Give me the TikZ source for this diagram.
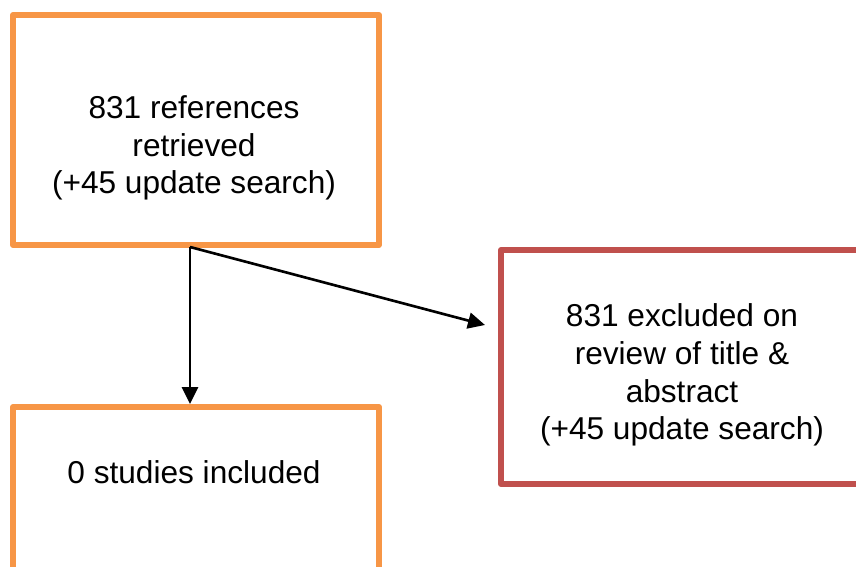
\documentclass[tikz,border=0pt]{standalone}
\usepackage{fontspec}
\setmainfont{Liberation Sans}
\usetikzlibrary{arrows.meta}
\definecolor{boxorange}{HTML}{F79646}
\definecolor{boxred}{HTML}{C0504D}
\begin{document}
\begin{tikzpicture}[x=0.02cm,y=-0.02cm,
    box/.style={draw,line width=3.4pt,line join=round,minimum width=7.32cm,minimum height=4.6cm,inner sep=0pt},
    txt/.style={align=center,font=\fontsize{18}{21.5}\selectfont,inner sep=0pt},
    flow/.style={line width=1.5pt,-{Triangle[length=0.34cm,width=0.32cm]}}]
  \useasboundingbox (0,0) rectangle (856,567);
  \node[box,boxorange] (retrieved) at (196,130) {};
  \node[box,boxred,minimum width=7.24cm,minimum height=4.68cm] (excluded) at (682,367) {};
  \node[box,boxorange] (included) at (196,522) {};
  \node[txt] (retrievedtext) at (194,148) {831 references\\retrieved\\(+45 update search)};
  \node[txt] (excludedtext) at (682,375) {831 excluded on\\review of title \&\\abstract\\(+45 update search)};
  \node[txt] (includedtext) at (194,472) {0 studies included};
  \coordinate (split) at (190,247);
  \coordinate (tip) at (485,325);
  \begin{scope}[flow]
    \draw (split) -- (included.north -| split);
    \draw (split) -- (tip);
  \end{scope}
\end{tikzpicture}
\end{document}
